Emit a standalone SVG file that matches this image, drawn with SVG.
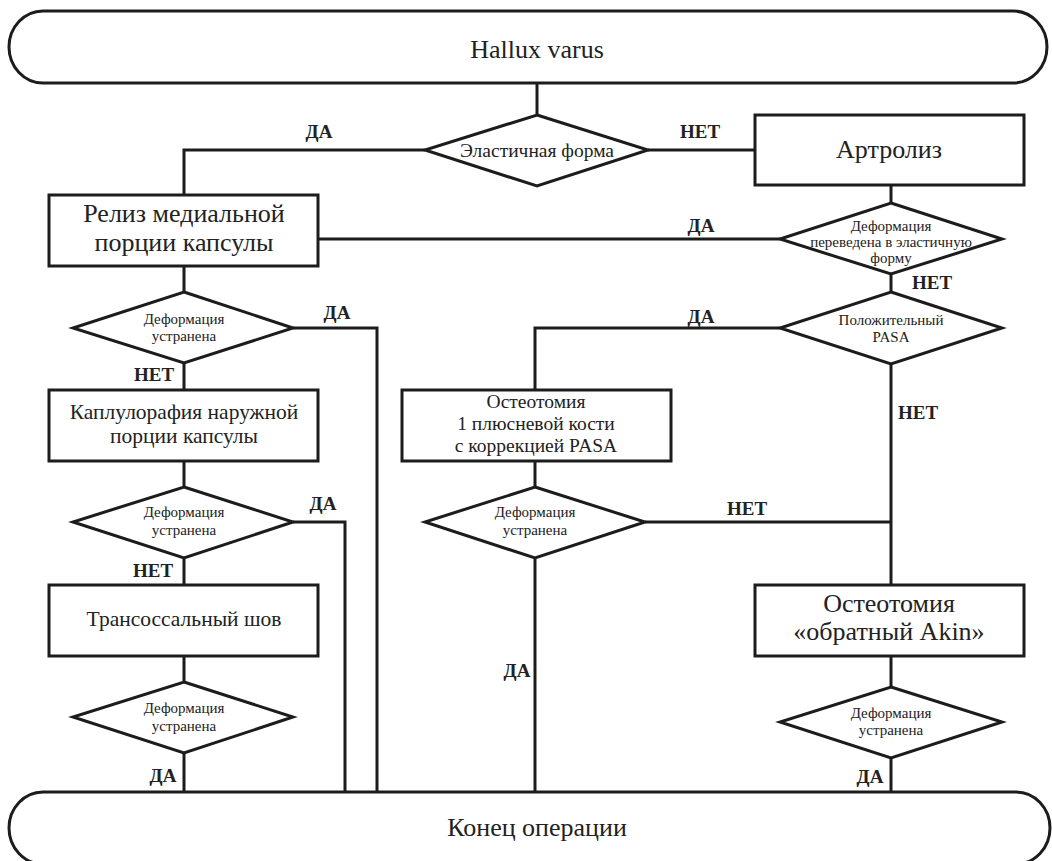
<svg xmlns="http://www.w3.org/2000/svg" width="1052" height="861" viewBox="0 0 1052 861">
<style>
.s{fill:#fff;stroke:#1c1c1c;stroke-width:3}
.c{fill:none;stroke:#1c1c1c;stroke-width:3}
text{font-family:"Liberation Serif","Times New Roman",serif;fill:#222;text-anchor:middle}
.big{font-size:26px}
.mid{font-size:21.5px}
.sm{font-size:19.5px}
.d{font-size:15px}
.lb{font-size:19px;font-weight:bold}
</style>
<rect width="1052" height="861" fill="#fff"/>
<g id="connectors">
<path class="c" d="M537 83V115"/>
<path class="c" d="M425 150H184V195"/>
<path class="c" d="M648 150H755"/>
<path class="c" d="M891 185V203"/>
<path class="c" d="M318 239H780"/>
<path class="c" d="M891 274V292"/>
<path class="c" d="M780 328H535V390"/>
<path class="c" d="M891 364V585"/>
<path class="c" d="M645 522H891"/>
<path class="c" d="M535 461V487"/>
<path class="c" d="M535 558V792"/>
<path class="c" d="M891 656V687"/>
<path class="c" d="M891 758V792"/>
<path class="c" d="M184 266V292"/>
<path class="c" d="M184 363V390"/>
<path class="c" d="M293 328H377V792"/>
<path class="c" d="M184 461V487"/>
<path class="c" d="M293 522H345V792"/>
<path class="c" d="M184 558V585"/>
<path class="c" d="M184 656V682"/>
<path class="c" d="M184 753V792"/>
</g>
<g id="start">
<rect class="s" x="9" y="11" width="1038" height="72" rx="34" ry="36"/>
<text class="big" x="537" y="58">Hallux varus</text>
</g>
<g id="d-elastic">
<polygon class="s" points="537,115 648,150 537,186 425,150"/>
<text class="sm" x="537" y="157">Эластичная форма</text>
</g>
<g id="artroliz">
<rect class="s" x="755" y="115" width="269" height="70"/>
<text class="big" x="889" y="158">Артролиз</text>
</g>
<g id="reliz">
<rect class="s" x="49" y="195" width="269" height="71"/>
<text class="big" x="184" y="222">Релиз медиальной</text>
<text class="big" x="184" y="251">порции капсулы</text>
</g>
<g id="d-converted">
<polygon class="s" points="891,203 1002,239 891,274 780,239"/>
<text class="d" x="891" y="231">Деформация</text>
<text class="d" x="891" y="247">переведена в эластичную</text>
<text class="d" x="891" y="263">форму</text>
</g>
<g id="d-pasa">
<polygon class="s" points="891,292 1002,328 891,364 780,328"/>
<text class="d" x="891" y="325">Положительный</text>
<text class="d" x="891" y="342">PASA</text>
</g>
<g id="d-l1">
<polygon class="s" points="184,292 293,328 184,363 73,328"/>
<text class="d" x="184" y="324">Деформация</text>
<text class="d" x="184" y="341">устранена</text>
</g>
<g id="kapsulorafia">
<rect class="s" x="49" y="390" width="269" height="71"/>
<text class="mid" x="184" y="419">Каплулорафия наружной</text>
<text class="mid" x="184" y="443">порции капсулы</text>
</g>
<g id="osteo-pasa">
<rect class="s" x="402" y="390" width="269" height="71"/>
<text class="sm" x="536" y="408">Остеотомия</text>
<text class="sm" x="536" y="430">1 плюсневой кости</text>
<text class="sm" x="536" y="452">с коррекцией PASA</text>
</g>
<g id="d-l2">
<polygon class="s" points="184,487 293,522 184,558 73,522"/>
<text class="d" x="184" y="517">Деформация</text>
<text class="d" x="184" y="535">устранена</text>
</g>
<g id="d-mid">
<polygon class="s" points="535,487 645,522 535,558 425,522"/>
<text class="d" x="535" y="517">Деформация</text>
<text class="d" x="535" y="535">устранена</text>
</g>
<g id="transossal">
<rect class="s" x="49" y="585" width="269" height="71"/>
<text class="mid" x="184" y="626">Трансоссальный шов</text>
</g>
<g id="akin">
<rect class="s" x="755" y="585" width="269" height="71"/>
<text class="big" x="889" y="612">Остеотомия</text>
<text class="big" x="889" y="640">«обратный Akin»</text>
</g>
<g id="d-l3">
<polygon class="s" points="184,682 293,717 184,753 73,717"/>
<text class="d" x="184" y="713">Деформация</text>
<text class="d" x="184" y="731">устранена</text>
</g>
<g id="d-akin">
<polygon class="s" points="891,687 1002,722 891,758 780,722"/>
<text class="d" x="891" y="718">Деформация</text>
<text class="d" x="891" y="735">устранена</text>
</g>
<g id="end">
<rect class="s" x="9" y="792" width="1041" height="72" rx="34" ry="36"/>
<text class="big" x="537" y="836">Конец операции</text>
</g>
<g id="labels">
<text class="lb" x="319" y="138">ДА</text>
<text class="lb" x="700" y="138">НЕТ</text>
<text class="lb" x="701" y="232">ДА</text>
<text class="lb" x="932" y="289">НЕТ</text>
<text class="lb" x="701" y="323">ДА</text>
<text class="lb" x="918" y="419">НЕТ</text>
<text class="lb" x="747" y="515">НЕТ</text>
<text class="lb" x="517" y="677">ДА</text>
<text class="lb" x="870" y="783">ДА</text>
<text class="lb" x="337" y="319">ДА</text>
<text class="lb" x="154" y="381">НЕТ</text>
<text class="lb" x="323" y="510">ДА</text>
<text class="lb" x="153" y="577">НЕТ</text>
<text class="lb" x="163" y="782">ДА</text>
</g>
</svg>
